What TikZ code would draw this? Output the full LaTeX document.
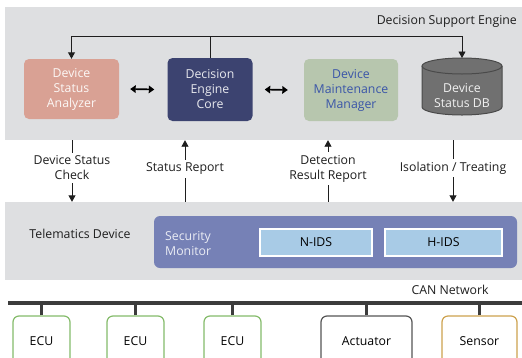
\documentclass[tikz,border=0pt]{standalone}
\usepackage{fontspec}
\setmainfont{Open Sans}
\usetikzlibrary{arrows.meta,calc}
\definecolor{panelgray}{HTML}{DEDFE1}
\definecolor{salmon}{HTML}{D9A194}
\definecolor{navy}{HTML}{3C4370}
\definecolor{sage}{HTML}{B7C6AE}
\definecolor{sageText}{HTML}{3A55A8}
\definecolor{dbfill}{HTML}{707070}
\definecolor{dbline}{HTML}{4A4A4A}
\definecolor{monitor}{HTML}{7681B6}
\definecolor{idsfill}{HTML}{A8CBE6}
\definecolor{busgray}{HTML}{3C3C3C}
\definecolor{ecugreen}{HTML}{84BB6A}
\definecolor{actgray}{HTML}{555555}
\definecolor{sensorgold}{HTML}{CDA24E}
\definecolor{linkcol}{HTML}{1E1E1E}
\newcommand\labelfont{\fontsize{12.3}{15}\selectfont}
\tikzset{
  panel/.style={fill=panelgray, draw=none, inner sep=0pt},
  module/.style={rounded corners=5pt, inner sep=0pt, align=center, font=\labelfont},
  lbl/.style={align=center, inner sep=3pt, text=linkcol, font=\labelfont},
  link/.style={draw=linkcol, line width=0.9pt},
  arr/.style={link, -{Triangle[length=6.5pt,width=7pt]}},
  dblarr/.style={draw=black, line width=1.7pt,
    {Triangle[length=5.5pt,width=7.5pt]}-{Triangle[length=5.5pt,width=7.5pt]}},
  ids/.style={fill=idsfill, draw=white, line width=1.3pt, inner sep=0pt, font=\labelfont},
  dev/.style={fill=white, rounded corners=6pt, line width=1.2pt,
    minimum height=50pt, inner sep=0pt, font=\labelfont},
  stub/.style={draw=busgray, line width=3pt},
}
\begin{document}
\begin{tikzpicture}[x=1pt, y=-1pt]
\useasboundingbox (0,0) rectangle (522,357);
\clip (0,0) rectangle (522,357);

% --- Decision Support Engine panel ---
\node[panel, minimum width=517pt, minimum height=133pt] (dse) at (263.5,73.5) {};
\node[lbl, anchor=east] (dsetitle) at (520,21) {Decision Support Engine};

\node[module, fill=salmon, text=white!92!salmon, minimum width=95pt, minimum height=60pt]
  (dsa) at (71.5,89) {Device\\Status\\Analyzer};
\node[module, fill=navy, text=white!88!navy, minimum width=85pt, minimum height=63pt]
  (dec) at (210,89.5) {Decision\\Engine\\Core};
\node[module, fill=sage, text=sageText, minimum width=94pt, minimum height=62pt]
  (dmm) at (351,90) {Device\\Maintenance\\Manager};

% database cylinder
\fill[dbfill] (422,66) -- (422,107) arc[start angle=180, end angle=0, x radius=40, y radius=8] -- (502,66) -- cycle;
\draw[dbline, line width=1pt] (422,66) -- (422,107) arc[start angle=180, end angle=0, x radius=40, y radius=8] -- (502,66);
\draw[dbline, fill=dbfill, line width=1pt] (462,66) ellipse[x radius=40, y radius=8];
\node[lbl, text=white!90!dbfill] (db) at (462,95.5) {Device\\Status DB};
\coordinate (dbtop) at (462,58);

% feedback bar from the engine core
\coordinate (bar) at (0,36);
\draw[arr] (dec.north) -- (dec.north |- bar) -- (dsa.north |- bar) -- (dsa.north);
\draw[arr] (dec.north |- bar) -- (dbtop |- bar) -- (dbtop);

% exchanges between modules
\draw[dblarr] ([xshift=11pt]dsa.east) -- ([xshift=-13pt]dec.west);
\draw[dblarr] ([xshift=12pt]dec.east) -- ([xshift=-16pt]dmm.west);

% --- Telematics Device panel ---
\node[panel, minimum width=517pt, minimum height=78pt] (td) at (263.5,241) {};
\node[lbl] (tdtitle) at (80,234) {Telematics Device};
\node[fill=monitor, rounded corners=6pt, minimum width=363pt, minimum height=52pt, inner sep=0pt]
  (sm) at (335.5,242) {};
\node[lbl, anchor=west, align=left, text=white!85!monitor] (smtitle) at (162,243.5) {Security\\Monitor};
\node[ids, minimum width=112pt, minimum height=27pt] (nids) at (316,242.5) {N-IDS};
\node[ids, minimum width=117pt, minimum height=27pt] (hids) at (443.5,242.5) {H-IDS};

% --- links between the two panels ---
\node[lbl] (chk) at (72,168) {Device Status\\Check};
\node[lbl] (sr) at (185,169) {Status Report};
\node[lbl] (drr) at (328,168.5) {Detection\\Result Report};
\node[lbl] (iso) at (453,168) {Isolation / Treating};

\draw[link] (dse.south -| chk) -- (chk.north);
\draw[arr] (chk.south) -- (td.north -| chk);
\draw[link] (td.north -| sr) -- (sr.south);
\draw[arr] (sr.north) -- (dse.south -| sr);
\draw[link] (td.north -| drr) -- (drr.south);
\draw[arr] (drr.north) -- (dse.south -| drr);
\draw[link] (dse.south -| iso) -- (iso.north);
\draw[arr] (iso.south) -- (td.north -| iso);

% --- CAN bus ---
\node[lbl] (can) at (450,290) {CAN Network};
\coordinate (busL) at (8,303);
\coordinate (busR) at (522,303);
\draw[draw=busgray, line width=3.5pt] (busL) -- (busR);

\node[dev, draw=ecugreen, minimum width=57pt] (ecu1) at (41.5,341) {ECU};
\node[dev, draw=ecugreen, minimum width=57pt] (ecu2) at (135.5,341) {ECU};
\node[dev, draw=ecugreen, minimum width=57pt] (ecu3) at (232.5,341) {ECU};
\node[dev, draw=actgray, minimum width=91pt] (act) at (366.5,341) {Actuator};
\node[dev, draw=sensorgold, minimum width=75pt] (sen) at (479.5,341) {Sensor};

\foreach \d in {ecu1,ecu2,ecu3,act,sen}
  \draw[stub] (\d.north) -- (\d.north |- busL);
\end{tikzpicture}
\end{document}
